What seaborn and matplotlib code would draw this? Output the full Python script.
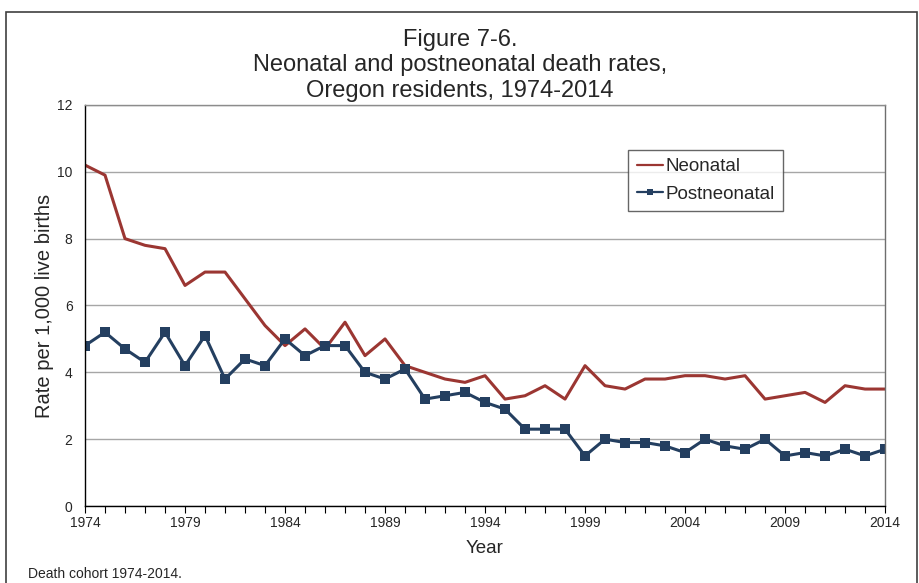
import numpy as np
import pandas as pd
import seaborn as sns
import matplotlib
matplotlib.use("Agg")
from matplotlib import pyplot as plt
from matplotlib.patches import Rectangle

years = list(range(1974, 2015))
neonatal = [10.2, 9.9, 8.0, 7.8, 7.7, 6.6, 7.0, 7.0, 6.2, 5.4,
            4.8, 5.3, 4.7, 5.5, 4.5, 5.0, 4.2, 4.0, 3.8, 3.7,
            3.9, 3.2, 3.3, 3.6, 3.2, 4.2, 3.6, 3.5, 3.8, 3.8,
            3.9, 3.9, 3.8, 3.9, 3.2, 3.3, 3.4, 3.1, 3.6, 3.5, 3.5]
postneonatal = [4.8, 5.2, 4.7, 4.3, 5.2, 4.2, 5.1, 3.8, 4.4, 4.2,
                5.0, 4.5, 4.8, 4.8, 4.0, 3.8, 4.1, 3.2, 3.3, 3.4,
                3.1, 2.9, 2.3, 2.3, 2.3, 1.5, 2.0, 1.9, 1.9, 1.8,
                1.6, 2.0, 1.8, 1.7, 2.0, 1.5, 1.6, 1.5, 1.7, 1.5, 1.7]
tick_years = [1974, 1979, 1984, 1989, 1994, 1999, 2004, 2009, 2014]

NEO_COLOR = "#9b3632"
POST_COLOR = "#243f60"

sns.set_style("white")
plt.rcParams["font.family"] = ["Liberation Sans", "DejaVu Sans"]

df = pd.DataFrame({"Year": years, "Neonatal": neonatal, "Postneonatal": postneonatal})

fig = plt.figure(figsize=(9.2, 5.83), dpi=100)
ax = fig.add_axes([0.0924, 0.132, 0.8696, 0.688])

sns.lineplot(data=df, x="Year", y="Neonatal", ax=ax, color=NEO_COLOR,
             linewidth=2.2, label="Neonatal")
sns.lineplot(data=df, x="Year", y="Postneonatal", ax=ax, color=POST_COLOR,
             linewidth=2.2, marker="s", markersize=6.5, markeredgewidth=0,
             label="Postneonatal")

ax.set_xlim(1974, 2014)
ax.set_ylim(0, 12)
ax.set_xticks(tick_years)
ax.set_xticks(years, minor=True)
ax.set_yticks(range(0, 13, 2))
ax.grid(axis="y", color="#a6a6a6", linewidth=1.0)
ax.set_axisbelow(True)

ax.spines["top"].set_color("#8c8c8c")
ax.spines["right"].set_color("#6e6e6e")
for side in ["left", "bottom"]:
    ax.spines[side].set_color("black")
for side in ax.spines:
    ax.spines[side].set_linewidth(1.0)

ax.tick_params(axis="x", which="both", direction="out", length=5, width=0.8,
               color="black", labelsize=10, pad=2, bottom=True)
ax.tick_params(axis="y", which="major", length=0, labelsize=10, pad=9)

ax.set_xlabel("Year", fontsize=13.5, labelpad=7.5)
ax.set_ylabel("Rate per 1,000 live births", fontsize=14.5, labelpad=2.5)

leg = ax.legend(loc="upper left", bbox_to_anchor=(0.679, 0.888), fontsize=13.5,
                frameon=True, fancybox=False, edgecolor="#404040",
                handlelength=1.4, borderpad=0.45, labelspacing=0.55,
                handletextpad=0.15, borderaxespad=0)
leg.get_frame().set_linewidth(1.0)
for h in leg.get_lines():
    h.set_linewidth(1.6)
    h.set_markersize(4.5)

fig.text(0.5, 0.888, "Figure 7-6.\nNeonatal and postneonatal death rates,\nOregon residents, 1974-2014",
         ha="center", va="center", fontsize=17, linespacing=1.22)
fig.text(0.03, 0.004, "Death cohort 1974-2014.", fontsize=10, ha="left", va="bottom")

fig.patches.append(Rectangle((0.006, -0.05), 0.991, 1.03, transform=fig.transFigure,
                             fill=False, edgecolor="#404040", linewidth=1.2))

fig.savefig("out.png", dpi=100)
